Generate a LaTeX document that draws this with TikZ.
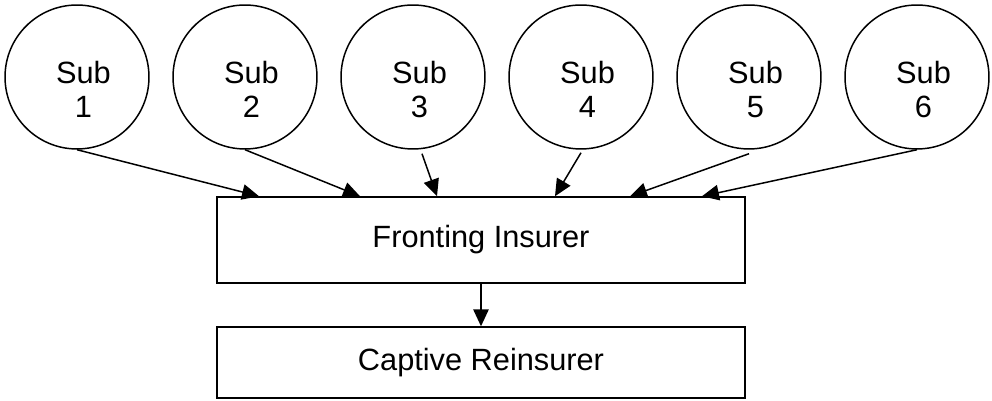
\documentclass[tikz,border=0pt]{standalone}
\usepackage{fontspec}
\setmainfont{Liberation Sans}
\usetikzlibrary{arrows.meta}

\begin{document}
\begin{tikzpicture}[x=0.02cm,y=-0.02cm,line width=0.85pt]
\tikzstyle{every node}=[font=\fontsize{17.5}{19.5}\selectfont];
\tikzstyle{sub}=[draw,shape=circle,minimum size=2.88cm,inner sep=0pt];
\tikzstyle{subtext}=[draw=none,align=center,xshift=0.13cm,yshift=-0.25cm];
\tikzstyle{party}=[draw,shape=rectangle,minimum width=10.56cm];
\tikzstyle{feed}=[-{Triangle[length=0.34cm,width=0.31cm]}];
\useasboundingbox (0,0) rectangle (992,401);
% the six subsidiaries
\node[sub,label={[subtext]center:Sub\\1}] (sub1) at (77,77) {};
\node[sub,label={[subtext]center:Sub\\2}] (sub2) at (245,77) {};
\node[sub,label={[subtext]center:Sub\\3}] (sub3) at (413,77) {};
\node[sub,label={[subtext]center:Sub\\4}] (sub4) at (581,77) {};
\node[sub,label={[subtext]center:Sub\\5}] (sub5) at (749,77) {};
\node[sub,label={[subtext]center:Sub\\6}] (sub6) at (917,77) {};
% insurer and reinsurer
\node[party,minimum height=1.72cm] (front) at (481,240) {Fronting Insurer};
\node[party,minimum height=1.42cm] (captive) at (481,362.5) {Captive Reinsurer};
% arrows
\draw[feed] (sub1.south) -- ([xshift=-4.44cm]front.north);
\draw[feed] (sub2.south) -- ([xshift=-2.42cm]front.north);
\draw[feed] ([xshift=0.18cm,yshift=-0.08cm]sub3.south) -- ([xshift=-0.88cm]front.north);
\draw[feed] ([yshift=-0.06cm]sub4.south) -- ([xshift=1.48cm]front.north);
\draw[feed] ([yshift=-0.08cm]sub5.south) -- ([xshift=2.98cm]front.north);
\draw[feed] (sub6.south) -- ([xshift=4.42cm]front.north);
\draw[feed] (front) -- (captive);
\end{tikzpicture}
\end{document}
